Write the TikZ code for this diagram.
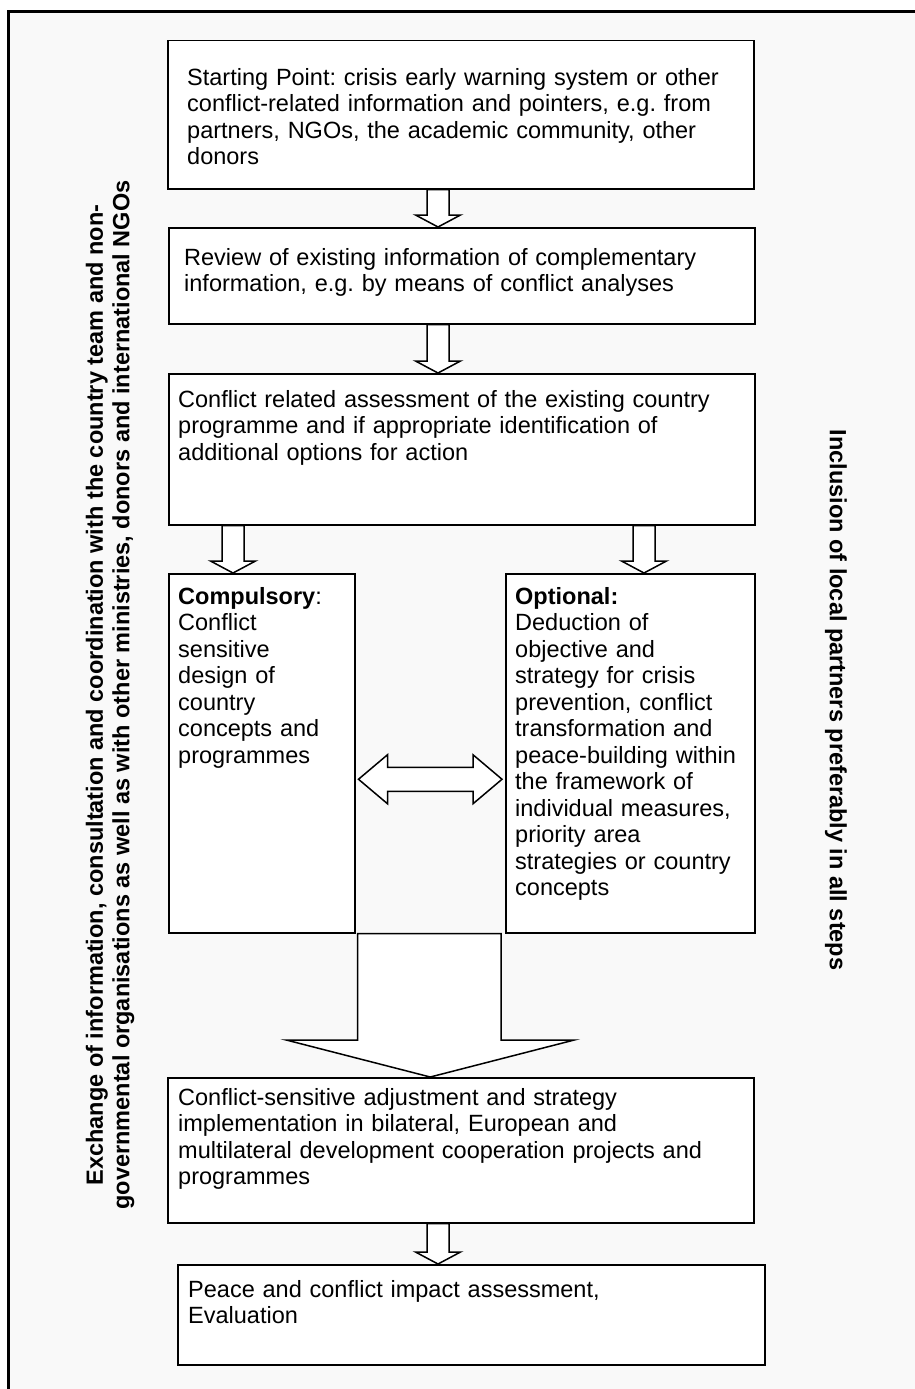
\documentclass[tikz,border=0pt]{standalone}
\usepackage{fontspec}
\setmainfont{Liberation Sans}
\usepackage{xcolor}
\usetikzlibrary{calc}
\definecolor{pagegray}{HTML}{F9F9F9}
\tikzset{
  box/.style={rectangle, draw, fill=white, line width=1.5pt, anchor=north west, inner sep=0pt},
  boxtext/.style={anchor=base west, inner sep=0pt, text width=#1, align=left, font=\fontsize{23.5}{26.5}\selectfont},
  boxtext/.default=560pt,
  sidetext/.style={inner sep=0pt, align=center, font=\fontsize{23.5}{26.5}\selectfont\bfseries},
  blockarr/.style={draw, fill=white, line width=1.5pt, line join=miter},
}
\frenchspacing

\begin{document}
\begin{tikzpicture}[x=1pt, y=-1pt]
  \useasboundingbox (0,0) rectangle (915,1389);
  % Frame
  \fill[white] (0,0) rectangle (915,1389);
  \fill[pagegray] (10,13) rectangle (915,1389);
  \draw[line width=3pt] (8.5,1389) -- (8.5,11.5) -- (915,11.5);

  % Boxes
  \node[box, minimum width=586pt, minimum height=148pt] (start) at (167,40) {};
  \node[box, minimum width=586pt, minimum height=96pt] (review) at (168,227) {};
  \node[box, minimum width=586pt, minimum height=151pt] (assess) at (168,373) {};
  \node[box, minimum width=186pt, minimum height=359pt] (compul) at (168,573) {};
  \node[box, minimum width=249pt, minimum height=359pt] (option) at (505,573) {};
  \node[box, minimum width=586pt, minimum height=145pt] (adjust) at (167,1077) {};
  \node[box, minimum width=587pt, minimum height=100pt] (impact) at (177,1264) {};

  % Texts
  \node[boxtext] (start-t) at ($(start.north west)+(20,45)$)
    {Starting Point: crisis early warning system or other\\conflict-related information and pointers, e.g. from\\partners, NGOs, the academic community, other\\donors};
  \node[boxtext] (review-t) at ($(review.north west)+(16,38)$)
    {Review of existing information of complementary\\information, e.g. by means of conflict analyses};
  \node[boxtext] (assess-t) at ($(assess.north west)+(10,34)$)
    {Conflict related assessment of the existing country\\programme and if appropriate identification of\\additional options for action};
  \node[boxtext=170pt] (compul-t) at ($(compul.north west)+(10,31)$)
    {{\bfseries Compulsory}:\\Conflict\\sensitive\\design of\\country\\concepts and\\programmes};
  \node[boxtext=235pt] (option-t) at ($(option.north west)+(10,31)$)
    {{\bfseries Optional:}\\Deduction of\\objective and\\strategy for crisis\\prevention, conflict\\transformation and\\peace-building within\\the framework of\\individual measures,\\priority area\\strategies or country\\concepts};
  \node[boxtext] (adjust-t) at ($(adjust.north west)+(11,28)$)
    {Conflict-sensitive adjustment and strategy\\implementation in bilateral, European and\\multilateral development cooperation projects and\\programmes};
  \node[boxtext] (impact-t) at ($(impact.north west)+(11,33)$)
    {Peace and conflict impact assessment,\\Evaluation};

  % Side texts
  \node[sidetext, rotate=90] (exchange) at (110,695)
    {Exchange of information, consultation and coordination with the country team and non-\\governmental organisations as well as with other ministries, donors and international NGOs};
  \node[sidetext, rotate=-90] (inclusion) at (836,700)
    {Inclusion of local partners preferably in all steps};

  % Small block arrows
  \foreach \a/\b/\cx in {start/review/438, review/assess/438, assess/compul/233, assess/option/644, adjust/impact/438}
    \draw[blockarr] let \p1=(\a.south), \p2=(\b.north) in
      (\cx pt-11pt,\y1) -- (\cx pt-11pt,\y2+12pt) -- (\cx pt-22.5pt,\y2+12pt) -- (\cx pt,\y2)
      -- (\cx pt+22.5pt,\y2+12pt) -- (\cx pt+11pt,\y2+12pt) -- (\cx pt+11pt,\y1) -- cycle;

  % Big arrow
  \draw[blockarr] let \p1=(compul.south east), \p2=(option.south west), \p3=(adjust.north),
      \p4=($(compul.south east)!0.5!(option.south west)$) in
    (\x1+2pt,\y1) -- (\x1+2pt,\y3+37pt) -- (\x4-144pt,\y3+37pt) -- (\x4,\y3)
    -- (\x4+144pt,\y3+37pt) -- (\x2-4pt,\y3+37pt) -- (\x2-4pt,\y1) -- cycle;

  % Double arrow
  \draw[blockarr] let \p1=(compul.east), \p2=(option.west) in
    (\x1+3pt,\y1-26pt) -- (\x1+32pt,\y1-1.5pt) -- (\x1+32pt,\y1-14pt) -- (\x2-32pt,\y1-14pt)
    -- (\x2-32pt,\y1-1.5pt) -- (\x2-3pt,\y1-26pt) -- (\x2-32pt,\y1-50.5pt) -- (\x2-32pt,\y1-38pt)
    -- (\x1+32pt,\y1-38pt) -- (\x1+32pt,\y1-50.5pt) -- cycle;
\end{tikzpicture}
\end{document}
